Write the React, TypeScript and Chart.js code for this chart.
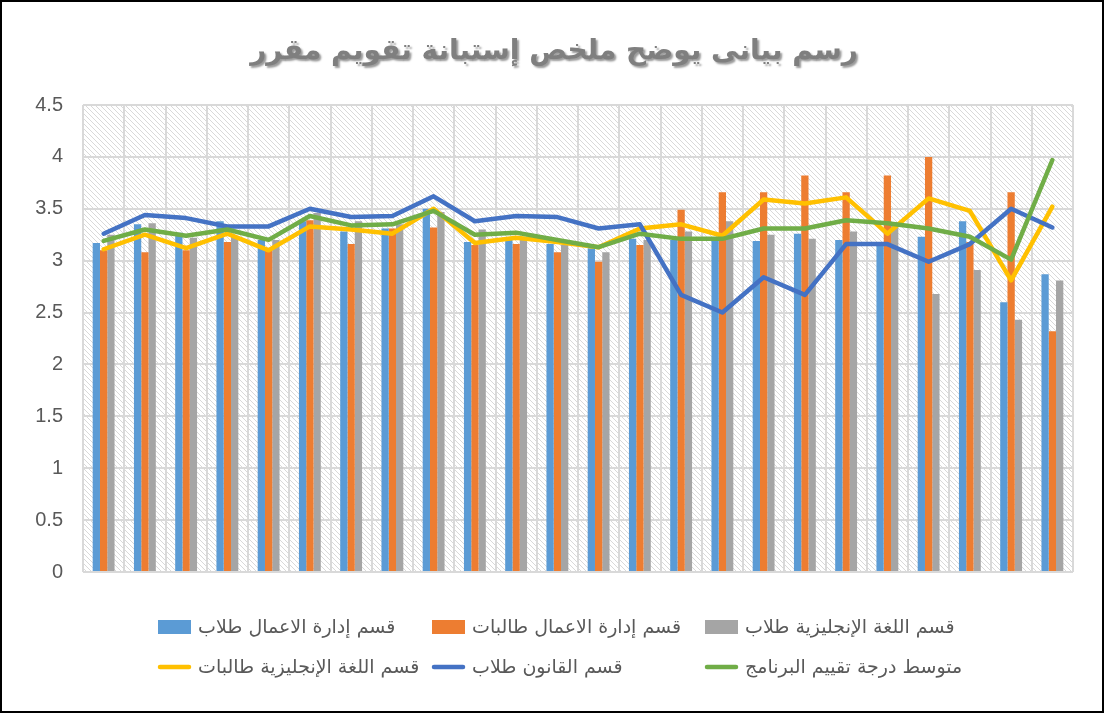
import React, { useEffect, useRef } from "react";
import { Chart, registerables } from "chart.js";

Chart.register(...registerables);

const TITLE = "رسم بيانى يوضح ملخص إستبانة تقويم مقرر";

const categories: string[] = Array.from({ length: 24 }, (_, i) => String(i + 1));

const seriesNames: string[] = [
  "قسم إدارة الاعمال طلاب",
  "قسم إدارة الاعمال طالبات",
  "قسم اللغة الإنجليزية طلاب",
  "قسم اللغة الإنجليزية طالبات",
  "قسم القانون طلاب",
  "متوسط درجة تقييم البرنامج",
];

const businessMale: number[] = [3.17, 3.35, 3.27, 3.38, 3.2, 3.38, 3.28, 3.31, 3.5, 3.18, 3.2, 3.16, 3.12, 3.21, 3.2, 3.19, 3.19, 3.26, 3.2, 3.16, 3.23, 3.38, 2.6, 2.87];
const businessFemale: number[] = [3.1, 3.08, 3.1, 3.18, 3.1, 3.39, 3.16, 3.31, 3.32, 3.15, 3.16, 3.08, 2.99, 3.15, 3.49, 3.66, 3.66, 3.82, 3.66, 3.82, 4.0, 3.18, 3.66, 2.32];
const englishMale: number[] = [3.25, 3.36, 3.22, 3.23, 3.2, 3.46, 3.38, 3.35, 3.47, 3.3, 3.2, 3.15, 3.08, 3.2, 3.28, 3.38, 3.25, 3.21, 3.28, 3.37, 2.68, 2.91, 2.43, 2.81];
const englishFemale: number[] = [3.11, 3.25, 3.12, 3.26, 3.1, 3.33, 3.3, 3.26, 3.5, 3.17, 3.22, 3.18, 3.13, 3.31, 3.35, 3.24, 3.59, 3.55, 3.61, 3.26, 3.6, 3.48, 2.81, 3.52];
const lawMale: number[] = [3.26, 3.44, 3.41, 3.33, 3.33, 3.5, 3.42, 3.43, 3.62, 3.38, 3.43, 3.42, 3.31, 3.35, 2.67, 2.5, 2.84, 2.67, 3.16, 3.16, 2.99, 3.16, 3.5, 3.32];
const programAverage: number[] = [3.19, 3.3, 3.24, 3.3, 3.2, 3.43, 3.34, 3.35, 3.48, 3.25, 3.27, 3.2, 3.13, 3.26, 3.21, 3.21, 3.31, 3.31, 3.39, 3.36, 3.31, 3.23, 3.01, 3.97];

const colors = ["#5B9BD5", "#ED7D31", "#A5A5A5", "#FFC000", "#4472C4", "#70AD47"];

const ARABIC_FONT = "'DejaVu Sans', 'Liberation Sans', sans-serif";

const decorPlugin = {
  id: "decor",
  beforeDraw(chart: any) {
    const { ctx, chartArea } = chart;
    const tile = document.createElement("canvas");
    tile.width = 5;
    tile.height = 5;
    const t = tile.getContext("2d")!;
    t.fillStyle = "#ffffff";
    t.fillRect(0, 0, 5, 5);
    t.strokeStyle = "#d9d9d9";
    t.lineWidth = 1;
    t.beginPath();
    t.moveTo(-1, -1);
    t.lineTo(6, 6);
    t.moveTo(-1, 4);
    t.lineTo(1, 6);
    t.moveTo(4, -1);
    t.lineTo(6, 1);
    t.stroke();
    const pattern = ctx.createPattern(tile, "repeat");
    ctx.save();
    ctx.fillStyle = "#ffffff";
    ctx.fillRect(0, 0, chart.width, chart.height);
    if (pattern) {
      ctx.fillStyle = pattern;
      ctx.fillRect(chartArea.left, chartArea.top, chartArea.right - chartArea.left, chartArea.bottom - chartArea.top);
    }
    ctx.restore();
  },
  afterDraw(chart: any) {
    const { ctx } = chart;
    ctx.save();
    // title
    ctx.font = `bold 28px ${ARABIC_FONT}`;
    ctx.textAlign = "center";
    ctx.textBaseline = "middle";
    ctx.shadowColor = "rgba(0,0,0,0.4)";
    ctx.shadowOffsetX = 2;
    ctx.shadowOffsetY = 2;
    ctx.shadowBlur = 2;
    ctx.fillStyle = "#7f7f7f";
    ctx.fillText(TITLE, 552, 50);
    ctx.restore();

    // legend
    ctx.save();
    const colX = [156, 430, 703];
    const rowY = [625, 665];
    ctx.font = `19px ${ARABIC_FONT}`;
    ctx.textAlign = "left";
    ctx.textBaseline = "middle";
    chart.data.datasets.forEach((ds: any, i: number) => {
      const x = colX[i % 3];
      const y = rowY[Math.floor(i / 3)];
      if (ds.type === "line") {
        ctx.strokeStyle = ds.borderColor;
        ctx.lineWidth = 4.5;
        ctx.lineCap = "round";
        ctx.beginPath();
        ctx.moveTo(x + 2, y);
        ctx.lineTo(x + 31, y);
        ctx.stroke();
      } else {
        ctx.fillStyle = ds.backgroundColor;
        ctx.fillRect(x, y - 7, 33, 14);
      }
      ctx.fillStyle = "#595959";
      ctx.fillText(ds.label, x + 40, y + 1);
    });
    ctx.restore();
  },
};

export default function App() {
  const ref = useRef<HTMLCanvasElement | null>(null);

  useEffect(() => {
    if (!ref.current) return;
    const barCommon = { type: "bar" as const, categoryPercentage: 0.53, barPercentage: 1.0, order: 3, borderWidth: 0 };
    const lineCommon = {
      type: "line" as const,
      borderWidth: 4.5,
      pointRadius: 0,
      pointHoverRadius: 0,
      tension: 0,
      fill: false,
      borderJoinStyle: "round" as const,
      borderCapStyle: "round" as const,
    };
    const chart = new Chart(ref.current, {
      type: "bar",
      data: {
        labels: categories,
        datasets: [
          { ...barCommon, label: seriesNames[0], data: businessMale, backgroundColor: colors[0] },
          { ...barCommon, label: seriesNames[1], data: businessFemale, backgroundColor: colors[1] },
          { ...barCommon, label: seriesNames[2], data: englishMale, backgroundColor: colors[2] },
          { ...lineCommon, label: seriesNames[3], data: englishFemale, borderColor: colors[3], backgroundColor: colors[3], order: 2 },
          { ...lineCommon, label: seriesNames[4], data: lawMale, borderColor: colors[4], backgroundColor: colors[4], order: 1 },
          { ...lineCommon, label: seriesNames[5], data: programAverage, borderColor: colors[5], backgroundColor: colors[5], order: 0 },
        ] as any,
      },
      options: {
        animation: false,
        responsive: true,
        maintainAspectRatio: false,
        events: [],
        layout: { padding: { top: 103, right: 29, bottom: 139, left: 0 } },
        plugins: {
          legend: { display: false },
          title: { display: false },
          tooltip: { enabled: false },
        },
        scales: {
          x: {
            offset: true,
            ticks: { display: false },
            grid: { offset: true, color: "#d9d9d9", lineWidth: 2, drawTicks: false },
            border: { display: false },
          },
          y: {
            min: 0,
            max: 4.5,
            ticks: {
              stepSize: 0.5,
              color: "#595959",
              padding: 20,
              font: { family: "'Liberation Sans', Arial, sans-serif", size: 20 },
              callback: (v: any) => String(Number(v)),
            },
            grid: { color: "#d9d9d9", lineWidth: 2, drawTicks: false },
            border: { display: false },
            afterFit: (s: any) => {
              s.width = 81;
            },
          },
        },
      },
      plugins: [decorPlugin],
    });
    return () => chart.destroy();
  }, []);

  return (
    <div
      style={{
        position: "absolute",
        left: 0,
        top: 0,
        width: 1104,
        height: 713,
        border: "2px solid #000",
        boxSizing: "border-box",
        background: "#fff",
      }}
    >
      <div style={{ position: "relative", width: 1100, height: 709 }}>
        <canvas ref={ref} />
      </div>
    </div>
  );
}
